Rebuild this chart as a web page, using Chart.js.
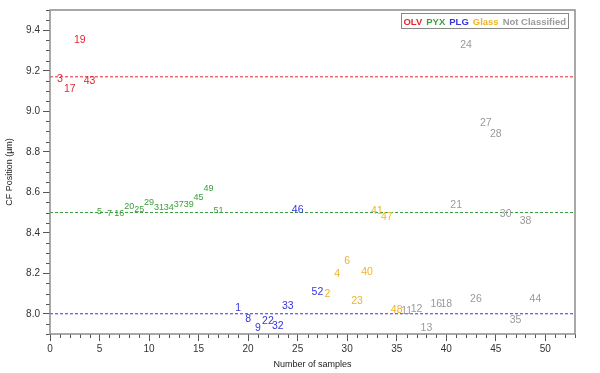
<!DOCTYPE html>
<html>
<head>
<meta charset="utf-8">
<script src="https://cdn.jsdelivr.net/npm/chart.js@4"></script>
<style>
  html, body { margin: 0; padding: 0; background: #fff; }
  #wrap { width: 600px; height: 373px; }
</style>
</head>
<body>
<div id="wrap"><canvas id="cf-chart"></canvas></div>
<script>
( function () {
	'use strict';

	// ── Data ────────────────────────────────────────────────────────────
	var xTicks = [ 0, 5, 10, 15, 20, 25, 30, 35, 40, 45, 50 ];
	var yTicks = [ 8.0, 8.2, 8.4, 8.6, 8.8, 9.0, 9.2, 9.4 ];

	var olvLabels = [ '19', '3', '17', '43' ];
	var olvX      = [ 3, 1, 2, 4 ];
	var olvY      = [ 9.35, 9.16, 9.11, 9.15 ];

	var pyxLabels = [ '5', '7', '16', '20', '25', '29', '31', '34', '37', '39', '45', '49', '51' ];
	var pyxX      = [ 5, 6, 7, 8, 9, 10, 11, 12, 13, 14, 15, 16, 17 ];
	var pyxY      = [ 8.507, 8.497, 8.497, 8.53, 8.514, 8.551, 8.523, 8.523, 8.54, 8.54, 8.573, 8.617, 8.51 ];

	var plgLabels = [ '46', '1', '8', '9', '22', '32', '33', '52' ];
	var plgX      = [ 25, 19, 20, 21, 22, 23, 24, 27 ];
	var plgY      = [ 8.513, 8.03, 7.975, 7.93, 7.963, 7.94, 8.036, 8.105 ];

	var glassLabels = [ '41', '47', '6', '40', '4', '2', '23', '48' ];
	var glassX      = [ 33, 34, 30, 32, 29, 28, 31, 35 ];
	var glassY      = [ 8.507, 8.477, 8.26, 8.205, 8.194, 8.099, 8.06, 8.02 ];

	var ncLabels = [ '24', '27', '28', '21', '30', '38', '11', '12', '16', '18', '26', '44', '13', '35' ];
	var ncX      = [ 42, 44, 45, 41, 46, 48, 36, 37, 39, 40, 43, 49, 38, 47 ];
	var ncY      = [ 9.325, 8.94, 8.885, 8.535, 8.494, 8.456, 8.011, 8.025, 8.046, 8.05, 8.07, 8.074, 7.93, 7.97 ];

	// reference levels (OLV, PYX, PLG)
	var refLevels = [ 9.17, 8.5, 8.0 ];
	var xRange    = [ 0, 53 ];
	var yRange    = [ 7.9, 9.5 ];

	var RED = '#e8232f', GREEN = '#3a9f3a', BLUE = '#3535dc', GOLD = '#f0b325', GREY = '#9a9a9a';
	var FONT = '"Liberation Sans", Arial, sans-serif';

	function pts( xs, ys ) {
		return xs.map( function ( x, i ) { return { x : x, y : ys[ i ] }; } );
	}

	function labelSet( name, labels, xs, ys, color, size ) {
		return {
			type        : 'scatter',
			label       : name,
			data        : pts( xs, ys ),
			textLabels  : labels,
			textColor   : color,
			textSize    : size,
			pointRadius : 0,
			pointHoverRadius : 0,
		};
	}

	function refLine( level, color ) {
		return {
			type        : 'line',
			data        : [ { x : xRange[ 0 ], y : level }, { x : xRange[ 1 ], y : level } ],
			borderColor : color,
			borderWidth : 1,
			borderDash  : [ 3, 2 ],
			pointRadius : 0,
			fill        : false,
		};
	}

	// ── Plugins ─────────────────────────────────────────────────────────
	var textPoints = {
		id : 'textPoints',
		afterDatasetsDraw : function ( chart ) {
			var ctx = chart.ctx;
			ctx.save();
			ctx.textAlign = 'center';
			ctx.textBaseline = 'middle';
			chart.data.datasets.forEach( function ( ds, di ) {
				if ( ! ds.textLabels ) { return; }
				var meta = chart.getDatasetMeta( di );
				ctx.fillStyle = ds.textColor;
				ctx.font = ds.textSize + 'px ' + FONT;
				meta.data.forEach( function ( el, i ) {
					ctx.fillText( ds.textLabels[ i ], el.x, el.y );
				} );
			} );
			ctx.restore();
		},
	};

	var frame = {
		id : 'frame',
		afterDraw : function ( chart ) {
			var ctx = chart.ctx, a = chart.chartArea;
			var xs = chart.scales.x, ys = chart.scales.y;
			ctx.save();
			// minor ticks
			ctx.strokeStyle = '#555';
			ctx.lineWidth = 1;
			ctx.beginPath();
			for ( var k = xRange[ 0 ]; k <= xRange[ 1 ]; k++ ) {
				if ( k % 5 === 0 ) { continue; }
				var px = Math.round( xs.getPixelForValue( k ) ) + 0.5;
				ctx.moveTo( px, a.bottom );
				ctx.lineTo( px, a.bottom + 4 );
			}
			for ( var m = 158; m <= 190; m++ ) {
				if ( m % 4 === 0 ) { continue; }
				var py = Math.round( ys.getPixelForValue( m * 0.05 ) ) + 0.5;
				ctx.moveTo( a.left - 4, py );
				ctx.lineTo( a.left, py );
			}
			ctx.stroke();
			// box round the plot
			ctx.strokeStyle = '#8c8c8c';
			ctx.lineWidth = 1.5;
			ctx.strokeRect( a.left, a.top, a.right - a.left, a.bottom - a.top );

			// legend: coloured words in a box
			var items = [
				[ 'OLV', RED ], [ 'PYX', GREEN ], [ 'PLG', BLUE ],
				[ 'Glass', GOLD ], [ 'Not Classified', GREY ],
			];
			ctx.font = 'bold 9.5px ' + FONT;
			ctx.textBaseline = 'middle';
			ctx.textAlign = 'left';
			var gap = 4, total = 0;
			items.forEach( function ( it ) { total += ctx.measureText( it[ 0 ] ).width; } );
			total += gap * ( items.length - 1 );
			var right = a.right - 9, x0 = right - total, yMid = a.top + 12;
			ctx.strokeStyle = '#888';
			ctx.lineWidth = 1;
			ctx.strokeRect( Math.round( x0 - 2 ) + 0.5, a.top + 3.5, Math.round( total + 4 ), 15 );
			var cx = x0;
			items.forEach( function ( it ) {
				ctx.fillStyle = it[ 1 ];
				ctx.fillText( it[ 0 ], cx, yMid );
				cx += ctx.measureText( it[ 0 ] ).width + gap;
			} );
			ctx.restore();
		},
	};

	// ── Chart ───────────────────────────────────────────────────────────
	new Chart( document.getElementById( 'cf-chart' ), {
		data : {
			datasets : [
				refLine( refLevels[ 0 ], RED ),
				refLine( refLevels[ 1 ], GREEN ),
				refLine( refLevels[ 2 ], BLUE ),
				labelSet( 'OLV', olvLabels, olvX, olvY, RED, 10.5 ),
				labelSet( 'PYX', pyxLabels, pyxX, pyxY, GREEN, 9 ),
				labelSet( 'PLG', plgLabels, plgX, plgY, BLUE, 10.5 ),
				labelSet( 'Glass', glassLabels, glassX, glassY, GOLD, 10.5 ),
				labelSet( 'Not Classified', ncLabels, ncX, ncY, GREY, 10.5 ),
			],
		},
		options : {
			responsive          : true,
			maintainAspectRatio : false,
			animation           : false,
			layout  : { padding : { left : 0, right : 25, top : 10, bottom : 0 } },
			plugins : { legend : { display : false }, tooltip : { enabled : false } },
			scales  : {
				x : {
					type : 'linear',
					min  : xRange[ 0 ],
					max  : xRange[ 1 ],
					afterBuildTicks : function ( s ) { s.ticks = xTicks.map( function ( v ) { return { value : v }; } ); },
					afterFit : function ( s ) { s.height = 39; },
					ticks : { color : '#333', font : { size : 10, family : FONT }, padding : 2, maxRotation : 0 },
					grid  : { drawOnChartArea : false, tickLength : 7, color : '#555' },
					border : { display : false },
					title : { display : true, text : 'Number of samples', color : '#222', font : { size : 9, family : FONT }, padding : { top : 0, bottom : 3 } },
				},
				y : {
					type : 'linear',
					min  : yRange[ 0 ],
					max  : yRange[ 1 ],
					afterBuildTicks : function ( s ) { s.ticks = yTicks.map( function ( v ) { return { value : v }; } ); },
					afterFit : function ( s ) { s.width = 50; },
					ticks : {
						color : '#333', font : { size : 10, family : FONT }, padding : 3,
						callback : function ( v ) { return Number( v ).toFixed( 1 ); },
					},
					grid  : { drawOnChartArea : false, tickLength : 7, color : '#555' },
					border : { display : false },
					title : { display : true, text : 'CF Position (µm)', color : '#222', font : { size : 9, family : FONT }, padding : { top : 4, bottom : 0 } },
				},
			},
		},
		plugins : [ textPoints, frame ],
	} );
} )();
</script>
</body>
</html>
